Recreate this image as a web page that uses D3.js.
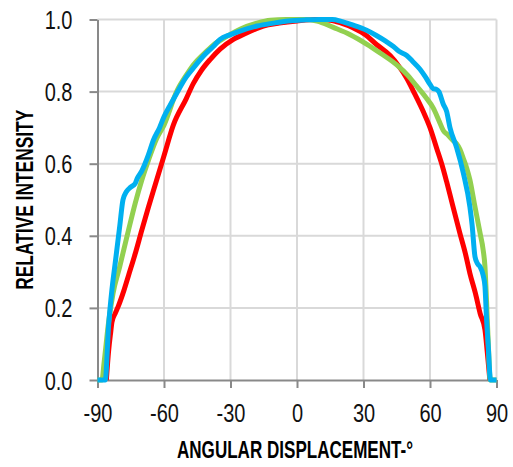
<!DOCTYPE html>
<html>
<head>
<meta charset="utf-8">
<script src="https://cdn.jsdelivr.net/npm/d3@7"></script>
<style>
  html, body { margin: 0; padding: 0; background: #ffffff; }
  svg { display: block; }
  text { font-family: "Liberation Sans", Arial, sans-serif; }
</style>
</head>
<body>
<svg id="chart" width="513" height="467"></svg>
<script>
// ---- data ----
const xTicks = [-90, -60, -30, 0, 30, 60, 90];
const yTicks = [0, 0.2, 0.4, 0.6, 0.8, 1.0];
const xTickLabels = ["-90", "-60", "-30", "0", "30", "60", "90"];
const yTickLabels = ["0.0", "0.2", "0.4", "0.6", "0.8", "1.0"];
const xTitle = "ANGULAR DISPLACEMENT-°";
const yTitle = "RELATIVE INTENSITY";

const redAngle = [-86, -85, -84, -83.5, -82, -80.6, -78, -76, -73, -70, -67, -64, -60, -55.8, -50, -46.8, -43, -39.2, -34.7, -28.7, -23, -18, -13, -8, 0, 8, 15, 20, 25, 31, 36, 42, 46, 49.5, 53, 57, 60, 63, 65.5, 67.5, 70, 73.5, 76, 78, 80.5, 82.6, 84.8, 85.8, 87];
const redValue = [0, 0.08, 0.135, 0.16, 0.185, 0.205, 0.25, 0.29, 0.35, 0.416, 0.48, 0.541, 0.622, 0.707, 0.78, 0.822, 0.86, 0.889, 0.918, 0.945, 0.962, 0.975, 0.985, 0.99, 0.996, 1.0, 0.998, 0.99, 0.978, 0.957, 0.93, 0.9, 0.87, 0.837, 0.795, 0.744, 0.7, 0.643, 0.595, 0.55, 0.49, 0.407, 0.35, 0.296, 0.24, 0.185, 0.139, 0.08, 0];

const greenAngle = [-90, -88, -87, -85, -83, -80, -76, -73, -70, -67, -63.3, -60, -54.3, -50, -46.8, -42, -37.8, -32, -25.7, -18, -12, -5, 3, 9, 16.4, 24, 31.4, 38, 45, 50, 54, 58, 61.5, 64, 66, 68, 70.5, 72, 73.5, 75, 76.6, 78, 80, 82.6, 84, 84.8, 85.5, 86.3, 87.2, 90];
const greenValue = [0, 0, 0.05, 0.16, 0.24, 0.314, 0.416, 0.49, 0.555, 0.61, 0.67, 0.707, 0.8, 0.845, 0.874, 0.905, 0.929, 0.952, 0.973, 0.99, 0.998, 1.0, 1.0, 0.996, 0.978, 0.958, 0.932, 0.905, 0.874, 0.845, 0.815, 0.785, 0.754, 0.72, 0.692, 0.68, 0.664, 0.655, 0.64, 0.615, 0.587, 0.555, 0.49, 0.407, 0.36, 0.314, 0.22, 0.1, 0, 0];

const blueAngle = [-90, -86.5, -85, -83.5, -82, -80, -78.5, -77, -75, -73, -72, -70, -67, -64.8, -62, -60, -57, -54.3, -50, -46.8, -42, -37.8, -34.7, -30, -25.7, -18, -10.7, -4, 4, 10, 16, 20, 25, 31.4, 36, 40, 43.5, 46, 49.5, 52, 55.5, 58, 60, 61.5, 63, 64, 66, 67.5, 69, 72, 75, 78, 79, 80.3, 81.5, 82.6, 84, 84.8, 85.5, 86.3, 87.3, 90];
const blueValue = [0, 0, 0.15, 0.25, 0.325, 0.425, 0.5, 0.522, 0.535, 0.545, 0.56, 0.58, 0.625, 0.665, 0.7, 0.73, 0.765, 0.795, 0.84, 0.865, 0.9, 0.925, 0.945, 0.958, 0.968, 0.982, 0.99, 0.996, 0.999, 1.0, 1.0, 0.995, 0.985, 0.97, 0.955, 0.94, 0.925, 0.912, 0.9, 0.885, 0.862, 0.84, 0.82, 0.808, 0.806, 0.8, 0.765, 0.745, 0.7, 0.645, 0.575, 0.48, 0.43, 0.342, 0.322, 0.314, 0.29, 0.259, 0.17, 0.092, 0, 0];

const seriesColors = ["#ff0000", "#92d050", "#00b0f0"];

// ---- chart ----
const svg = d3.select("#chart");
const x = d3.scaleLinear().domain([-90, 90]).range([97.5, 496.5]);
const y = d3.scaleLinear().domain([0, 1]).range([380, 19.5]);

const gridColor = "#d9d9d9";
const axisColor = "#898989";

// grid
svg.append("g").selectAll("line").data(xTicks.filter(d => d !== -90)).join("line")
  .attr("x1", d => x(d)).attr("x2", d => x(d))
  .attr("y1", y(0)).attr("y2", y(1))
  .attr("stroke", gridColor).attr("stroke-width", 2);
svg.append("g").selectAll("line").data(yTicks.filter(d => d !== 0)).join("line")
  .attr("x1", x(-90)).attr("x2", x(90))
  .attr("y1", d => y(d)).attr("y2", d => y(d))
  .attr("stroke", gridColor).attr("stroke-width", 2);

// axes
const yAxis = d3.axisLeft(y).tickValues(yTicks).tickFormat((d, i) => yTickLabels[i]).tickSizeInner(8).tickSizeOuter(0).tickPadding(17);
const xAxis = d3.axisBottom(x).tickValues(xTicks).tickFormat((d, i) => xTickLabels[i]).tickSizeInner(8).tickSizeOuter(0).tickPadding(14);

const gy = svg.append("g").attr("transform", `translate(${x(-90)},0)`).call(yAxis);
const gx = svg.append("g").attr("transform", `translate(0,${y(0)})`).call(xAxis);

[gx, gy].forEach(g => {
  g.attr("font-family", null).attr("font-size", null);
  g.select(".domain").attr("stroke", axisColor).attr("stroke-width", 2);
  g.selectAll(".tick line").attr("stroke", axisColor).attr("stroke-width", 2);
  g.selectAll(".tick text").attr("fill", "#111").style("font-size", "25px");
});
gx.selectAll(".tick text").attr("y", 42).attr("dy", 0);
gy.selectAll(".tick text").attr("dy", "0.36em");

// condense tick labels (reference uses a narrow face)
svg.selectAll(".tick text").each(function () {
  const w = this.getComputedTextLength();
  d3.select(this).attr("textLength", w * 0.8).attr("lengthAdjust", "spacingAndGlyphs");
});

// series
const line = d3.line().x(d => x(d[0])).y(d => y(d[1])).curve(d3.curveMonotoneX);
const seriesData = [
  d3.zip(redAngle, redValue),
  d3.zip(greenAngle, greenValue),
  d3.zip(blueAngle, blueValue)
];
svg.append("g").selectAll("path").data(seriesData).join("path")
  .attr("d", line)
  .attr("fill", "none")
  .attr("stroke", (d, i) => seriesColors[i])
  .attr("stroke-width", 5)
  .attr("stroke-linejoin", "round")
  .attr("stroke-linecap", "butt");

// titles
svg.append("text")
  .attr("x", 295).attr("y", 457.5)
  .attr("text-anchor", "middle")
  .attr("font-weight", "bold")
  .style("font-size", "23.5px")
  .attr("fill", "#000")
  .attr("textLength", 236).attr("lengthAdjust", "spacingAndGlyphs")
  .text(xTitle);

svg.append("text")
  .attr("transform", `translate(33,${(y(0) + y(1)) / 2}) rotate(-90)`)
  .attr("text-anchor", "middle")
  .attr("font-weight", "bold")
  .style("font-size", "23.5px")
  .attr("fill", "#000")
  .attr("textLength", 180).attr("lengthAdjust", "spacingAndGlyphs")
  .text(yTitle);
</script>
</body>
</html>
